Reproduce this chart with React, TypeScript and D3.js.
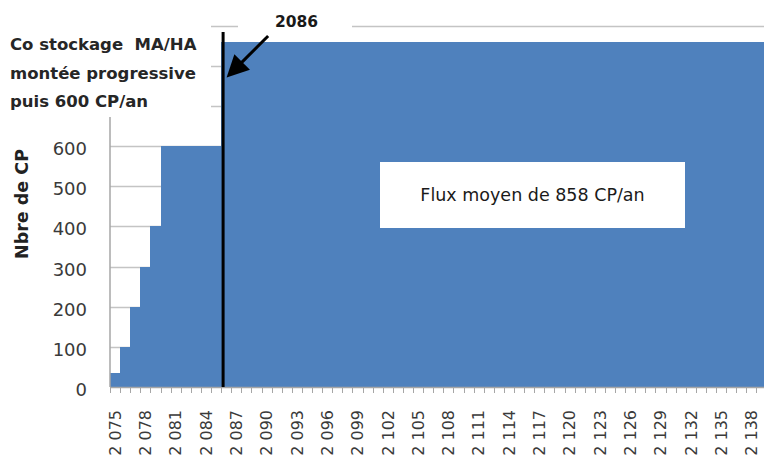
import React from "react";
import * as d3 from "d3";

const years = [
  2075, 2076, 2077, 2078, 2079, 2080, 2081, 2082, 2083, 2084, 2085, 2086, 2087,
  2088, 2089, 2090, 2091, 2092, 2093, 2094, 2095, 2096, 2097, 2098, 2099, 2100,
  2101, 2102, 2103, 2104, 2105, 2106, 2107, 2108, 2109, 2110, 2111, 2112, 2113,
  2114, 2115, 2116, 2117, 2118, 2119, 2120, 2121, 2122, 2123, 2124, 2125, 2126,
  2127, 2128, 2129, 2130, 2131, 2132, 2133, 2134, 2135, 2136, 2137, 2138, 2139,
];

const flux = [
  36, 100, 200, 300, 400, 600, 600, 600, 600, 600, 600, 858, 858,
  858, 858, 858, 858, 858, 858, 858, 858, 858, 858, 858, 858, 858,
  858, 858, 858, 858, 858, 858, 858, 858, 858, 858, 858, 858, 858,
  858, 858, 858, 858, 858, 858, 858, 858, 858, 858, 858, 858, 858,
  858, 858, 858, 858, 858, 858, 858, 858, 858, 858, 858, 858, 858,
];

const tickYears = [
  2075, 2078, 2081, 2084, 2087, 2090, 2093, 2096, 2099, 2102, 2105, 2108, 2111,
  2114, 2117, 2120, 2123, 2126, 2129, 2132, 2135, 2138,
];
const tickLabels = [
  "2 075", "2 078", "2 081", "2 084", "2 087", "2 090", "2 093", "2 096", "2 099",
  "2 102", "2 105", "2 108", "2 111", "2 114", "2 117", "2 120", "2 123", "2 126",
  "2 129", "2 132", "2 135", "2 138",
];
const yTickValues = [0, 100, 200, 300, 400, 500, 600];
const gridValues = [100, 200, 300, 400, 500, 600, 700, 800, 900];
const markerYear = 2086;
const markerLabel = "2086";
const noteLines = ["Co stockage  MA/HA", "montée progressive", "puis 600 CP/an"];
const fluxLabel = "Flux moyen de 858 CP/an";
const yTitle = "Nbre de CP";

const FONT = "'DejaVu Sans', sans-serif";

export default function App() {
  const W = 764;
  const H = 461;
  const x = d3
    .scaleBand<number>()
    .domain(years)
    .range([110, 766.5])
    .padding(0);
  const y = d3.scaleLinear().domain([0, 900]).range([387, 25.5]);
  const bw = x.bandwidth();
  const y0 = y(0);
  const left = x.range()[0];

  const mx = (x(markerYear) as number) + 2;
  const tip: [number, number] = [mx + 3.5, 77.5];
  const start: [number, number] = [tip[0] + 41.5, 36];
  const dx = tip[0] - start[0];
  const dy = tip[1] - start[1];
  const len = Math.hypot(dx, dy);
  const ux = dx / len;
  const uy = dy / len;
  const headL = 22;
  const headW = 11;
  const bc: [number, number] = [tip[0] - ux * headL, tip[1] - uy * headL];
  const p1: [number, number] = [bc[0] - uy * headW, bc[1] + ux * headW];
  const p2: [number, number] = [bc[0] + uy * headW, bc[1] - ux * headW];

  return (
    <svg
      width={W}
      height={H}
      style={{ position: "absolute", left: 0, top: 0, background: "#fff" }}
    >
      <rect x={0} y={0} width={W} height={H} fill="#fff" />
      {/* gridlines */}
      {gridValues.map((v) => (
        <line
          key={"g" + v}
          x1={left}
          x2={W}
          y1={Math.round(y(v)) + 0.5}
          y2={Math.round(y(v)) + 0.5}
          stroke="#c4c4c4"
          strokeWidth={1.5}
        />
      ))}
      {/* bars */}
      <g shapeRendering="crispEdges">
        {years.map((yr, i) => (
          <rect
            key={yr}
            x={x(yr) as number}
            y={y(flux[i])}
            width={bw + 0.6}
            height={y0 - y(flux[i])}
            fill="#4f81bd"
          />
        ))}
      </g>
      {/* axes */}
      <line x1={left} x2={left} y1={y(900)} y2={y0} stroke="#a6a6a6" strokeWidth={1.5} />
      <line x1={left} x2={W} y1={y0 + 0.5} y2={y0 + 0.5} stroke="#a6a6a6" strokeWidth={1.5} />
      {years.map((yr) => (
        <line
          key={"t" + yr}
          x1={Math.round(x(yr) as number) + 0.5}
          x2={Math.round(x(yr) as number) + 0.5}
          y1={y0}
          y2={y0 + 6}
          stroke="#a6a6a6"
          strokeWidth={1}
        />
      ))}
      {/* y tick labels */}
      {yTickValues.map((v) => (
        <text
          key={"yl" + v}
          x={87}
          y={y(v)}
          dy="0.5em"
          textAnchor="end"
          fontFamily={FONT}
          fontSize={18}
          fill="#3a3a3a"
        >
          {v}
        </text>
      ))}
      {/* x tick labels */}
      {tickYears.map((yr, i) => {
        const cx = (x(yr) as number) + bw / 2;
        return (
          <text
            key={"xl" + yr}
            transform={`translate(${cx},${410}) rotate(-90)`}
            dy="0.36em"
            textAnchor="end"
            fontFamily={FONT}
            fontSize={16}
            fill="#3a3a3a"
          >
            {tickLabels[i]}
          </text>
        );
      })}
      {/* y title */}
      <text
        transform={`translate(22,204) rotate(-90)`}
        dy="0.36em"
        textAnchor="middle"
        fontFamily={FONT}
        fontWeight="bold"
        fontSize={17.5}
        fill="#222"
      >
        {yTitle}
      </text>
      {/* flux box */}
      <rect x={380} y={162} width={305} height={66} fill="#fff" />
      <text
        x={532.5}
        y={201}
        textAnchor="middle"
        fontFamily={FONT}
        fontSize={17.5}
        fill="#1a1a1a"
      >
        {fluxLabel}
      </text>
      {/* note box top-left */}
      <rect x={0} y={0} width={211} height={117} fill="#fff" />
      {noteLines.map((t, i) => (
        <text
          key={"n" + i}
          x={10}
          y={50 + i * 28.5}
          fontFamily={FONT}
          fontWeight="bold"
          fontSize={16.5}
          fill="#262626"
          style={{ whiteSpace: "pre" }}
        >
          {t}
        </text>
      ))}
      {/* 2086 label box */}
      <rect x={238} y={12} width={114} height={24} fill="#fff" />
      <text
        x={275}
        y={27}
        fontFamily={FONT}
        fontWeight="bold"
        fontSize={15.5}
        fill="#1a1a1a"
      >
        {markerLabel}
      </text>
      {/* marker line */}
      <line x1={mx} x2={mx} y1={32} y2={y0} stroke="#000" strokeWidth={3} />
      {/* arrow */}
      <line
        x1={start[0]}
        y1={start[1]}
        x2={bc[0] + ux * 2}
        y2={bc[1] + uy * 2}
        stroke="#000"
        strokeWidth={3}
      />
      <polygon
        points={`${tip[0]},${tip[1]} ${p1[0]},${p1[1]} ${p2[0]},${p2[1]}`}
        fill="#000"
      />
    </svg>
  );
}
